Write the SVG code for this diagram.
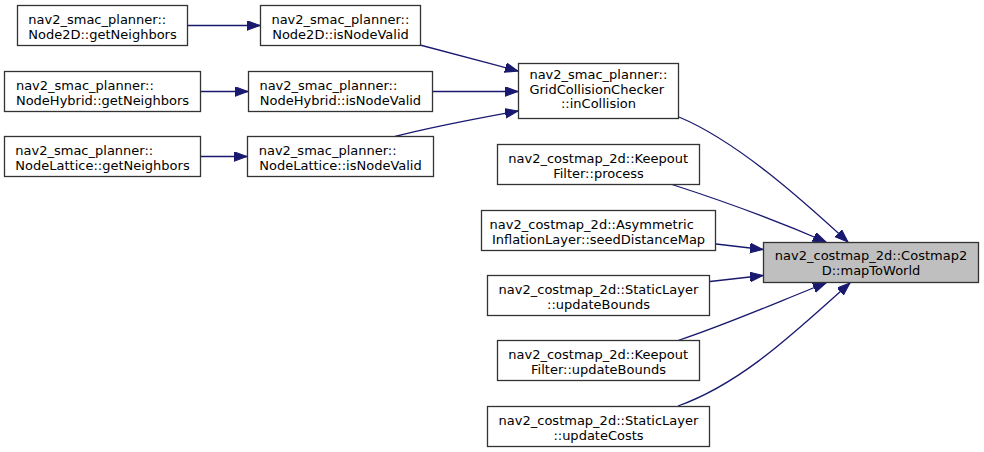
<svg xmlns="http://www.w3.org/2000/svg" width="984" height="452" viewBox="0 0 984 452">
<defs>
<marker id="arr" markerUnits="userSpaceOnUse" markerWidth="14" markerHeight="11" refX="13" refY="4.8" orient="auto">
<path d="M0,0 L13,4.8 L0,9.6 z" fill="#191970" stroke="#191970" stroke-width="1"/>
</marker>
<style>
.n rect{fill:#ffffff;stroke:#333333;stroke-width:1.3}
.n.hl rect{fill:#bfbfbf}
.n text{font-family:"DejaVu Sans",sans-serif;font-size:13px;fill:#000000;text-anchor:middle}
.n text.l{text-anchor:start}
.e path{fill:none;stroke:#191970;stroke-width:1.3;marker-end:url(#arr)}
</style>
</defs>
<rect x="0" y="0" width="984" height="452" fill="#ffffff"/>
<g id="edges" class="e">
<path d="M188,25.5 L260,25.5"/>
<path d="M201,91.5 L248,91.5"/>
<path d="M201,156.5 L247,156.5"/>
<path d="M420,45 C450,53 485,62 518,71"/>
<path d="M433,91.5 L518,91.5"/>
<path d="M395,136.5 C435,126 480,118 518,111"/>
<path d="M679,117 C736,141 798,196 848,242"/>
<path d="M672,184.5 C720,200 780,222 826,242"/>
<path d="M716,244 L763,249.5"/>
<path d="M710,281.5 L763,275.5"/>
<path d="M678,340.5 C728,324 780,301 826,283"/>
<path d="M678,406 C745,382 800,327 850,283"/>
</g>
<g id="node_n2d_get" class="n"><rect x="17.5" y="5.5" width="170" height="40"/><text class="l" x="28.3" y="24">nav2_smac_planner::</text><text x="102.5" y="38.5">Node2D::getNeighbors</text></g>
<g id="node_n2d_valid" class="n"><rect x="260.5" y="5.5" width="160" height="40"/><text class="l" x="271.4" y="24">nav2_smac_planner::</text><text x="340.5" y="38.5">Node2D::isNodeValid</text></g>
<g id="node_nh_get" class="n"><rect x="4.5" y="71.5" width="196" height="40"/><text class="l" x="15.9" y="90">nav2_smac_planner::</text><text x="102.5" y="104.5">NodeHybrid::getNeighbors</text></g>
<g id="node_nh_valid" class="n"><rect x="248.5" y="71.5" width="184" height="40"/><text class="l" x="259.4" y="90">nav2_smac_planner::</text><text x="340.5" y="104.5">NodeHybrid::isNodeValid</text></g>
<g id="node_nl_get" class="n"><rect x="4.5" y="136.5" width="196" height="40"/><text class="l" x="15.3" y="155">nav2_smac_planner::</text><text x="102.5" y="169.5">NodeLattice::getNeighbors</text></g>
<g id="node_nl_valid" class="n"><rect x="247.5" y="136.5" width="186" height="40"/><text class="l" x="258.7" y="155">nav2_smac_planner::</text><text x="340.5" y="169.5">NodeLattice::isNodeValid</text></g>
<g id="node_grid" class="n"><rect x="518.5" y="63.5" width="160" height="55"/><text class="l" x="529.4" y="79">nav2_smac_planner::</text><text class="l" x="529.4" y="93.5">GridCollisionChecker</text><text x="598.5" y="108">::inCollision</text></g>
<g id="node_keep_proc" class="n"><rect x="497.5" y="144.5" width="202" height="40"/><text class="l" x="508.3" y="163">nav2_costmap_2d::Keepout</text><text x="598.5" y="177.5">Filter::process</text></g>
<g id="node_asym" class="n"><rect x="481.5" y="210.5" width="234" height="40"/><text class="l" x="489.6" y="229">nav2_costmap_2d::Asymmetric</text><text x="598.5" y="243.5">InflationLayer::seedDistanceMap</text></g>
<g id="node_static_bounds" class="n"><rect x="487.5" y="275.5" width="222" height="40"/><text class="l" x="498.6" y="294">nav2_costmap_2d::StaticLayer</text><text x="598.5" y="308.5">::updateBounds</text></g>
<g id="node_keep_bounds" class="n"><rect x="497.5" y="340.5" width="202" height="40"/><text class="l" x="508.3" y="359">nav2_costmap_2d::Keepout</text><text x="598.5" y="373.5">Filter::updateBounds</text></g>
<g id="node_static_costs" class="n"><rect x="487.5" y="406.5" width="222" height="40"/><text class="l" x="498.6" y="425">nav2_costmap_2d::StaticLayer</text><text x="598.5" y="439.5">::updateCosts</text></g>
<g id="node_map" class="n hl"><rect x="763.5" y="242.5" width="215" height="40"/><text x="871" y="260">nav2_costmap_2d::Costmap2</text><text x="871" y="274.5">D::mapToWorld</text></g>
</svg>
